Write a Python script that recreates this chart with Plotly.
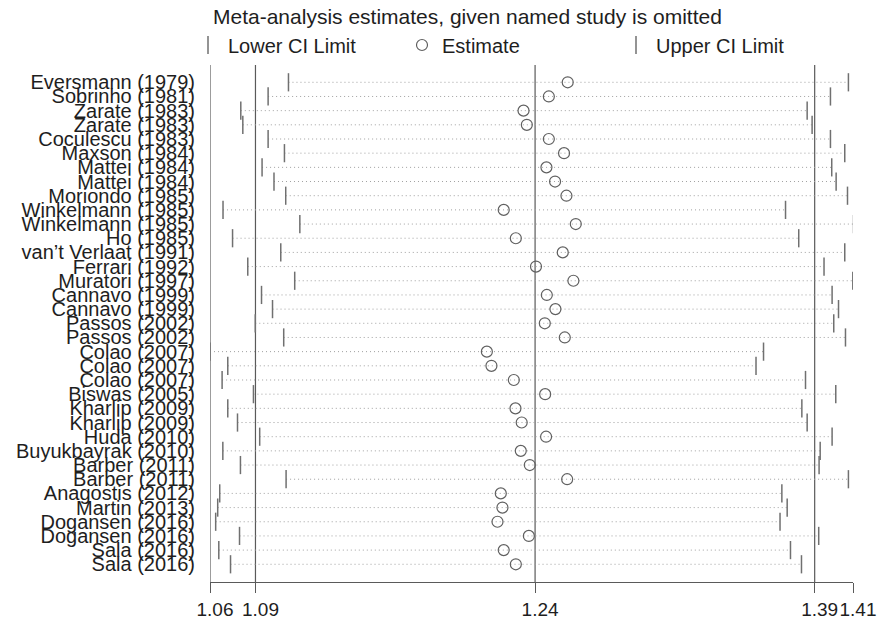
import plotly.graph_objects as go

studies = [
    "Eversmann (1979)", "Sobrinho (1981)", "Zarate (1983)", "Zarate (1983)",
    "Coculescu (1983)", "Maxson (1984)", "Mattei (1984)", "Mattei (1984)",
    "Moriondo (1985)", "Winkelmann (1985)", "Winkelmann (1985)", "Ho (1985)",
    "van\u2019t Verlaat (1991)", "Ferrari (1992)", "Muratori (1997)", "Cannavo (1999)",
    "Cannavo (1999)", "Passos (2002)", "Passos (2002)", "Colao (2007)",
    "Colao (2007)", "Colao (2007)", "Biswas (2005)", "Kharlip (2009)",
    "Kharlip (2009)", "Huda (2010)", "Buyukbayrak (2010)", "Barber (2011)",
    "Barber (2011)", "Anagostis (2012)", "Martin (2013)", "Dogansen (2016)",
    "Dogansen (2016)", "Sala (2016)", "Sala (2016)",
]

lower = [
    1.1035, 1.0924, 1.0775, 1.0786, 1.0924, 1.1013, 1.0891, 1.0956,
    1.1020, 1.0678, 1.1097, 1.0730, 1.0993, 1.0813, 1.1069, 1.0888,
    1.0948, 1.0854, 1.1009, 1.0607, 1.0704, 1.0673, 1.0844, 1.0704,
    1.0757, 1.0878, 1.0677, 1.0773, 1.1022, 1.0660, 1.0649, 1.0638,
    1.0768, 1.0655, 1.0719,
]

estimate = [
    1.2558, 1.2455, 1.2317, 1.2335, 1.2455, 1.2538, 1.2442, 1.2489,
    1.2551, 1.2209, 1.2602, 1.2275, 1.2531, 1.2385, 1.2589, 1.2444,
    1.2491, 1.2433, 1.2542, 1.2117, 1.2142, 1.2264, 1.2435, 1.2273,
    1.2307, 1.2440, 1.2302, 1.2351, 1.2555, 1.2193, 1.2202, 1.2175,
    1.2346, 1.2209, 1.2275,
]

upper = [
    1.4089, 1.3991, 1.3864, 1.3891, 1.3991, 1.4069, 1.3998, 1.4022,
    1.4084, 1.3746, 1.4117, 1.3818, 1.4069, 1.3956, 1.4113, 1.4000,
    1.4035, 1.4009, 1.4073, 1.3626, 1.3585, 1.3855, 1.4020, 1.3835,
    1.3864, 1.4000, 1.3935, 1.3929, 1.4089, 1.3726, 1.3755, 1.3716,
    1.3927, 1.3773, 1.3833,
]

# min lower limit, overall lower CI, overall estimate, overall upper CI, max upper limit
overall_ticks = [1.0607, 1.0855, 1.238, 1.3905, 1.4114]
tick_labels = ["1.06", "1.09", "1.24", "1.39", "1.41"]

rows = list(range(1, len(studies) + 1))

FONT = "Liberation Sans, Arial, sans-serif"
TXT = "#1e1e1e"
LINE = "#5a5a5a"

fig = go.Figure()

# dotted CI lines
dx, dy = [], []
for r, lo, up in zip(rows, lower, upper):
    dx += [lo, up, None]
    dy += [r, r, None]
fig.add_trace(go.Scatter(
    x=dx, y=dy, mode="lines", showlegend=False, hoverinfo="skip",
    line=dict(color="#a0a0a0", width=1, dash="1px,3px"),
))

fig.add_trace(go.Scatter(
    x=lower, y=rows, mode="markers", name="Lower CI Limit",
    marker=dict(symbol="line-ns", size=13, line=dict(color="#707070", width=1.5)),
))
fig.add_trace(go.Scatter(
    x=estimate, y=rows, mode="markers", name="Estimate",
    marker=dict(symbol="circle-open", size=11, color="#606060", line=dict(color="#606060", width=1.2)),
))
fig.add_trace(go.Scatter(
    x=upper, y=rows, mode="markers", name="Upper CI Limit",
    marker=dict(symbol="line-ns", size=13, line=dict(color="#707070", width=1.5)),
))

# reference lines
for v in overall_ticks[:4]:
    fig.add_shape(type="line", xref="x", yref="paper", x0=v, x1=v, y0=0, y1=1,
                  line=dict(color=LINE, width=1.2), layer="below")

fig.update_layout(
    width=892, height=619,
    margin=dict(l=210, r=39, t=65, b=37, autoexpand=False),
    paper_bgcolor="white", plot_bgcolor="white",
    font=dict(family=FONT, size=20, color=TXT),
    title=dict(
        text="Meta-analysis estimates, given named study is omitted",
        xref="container", yref="container", x=213 / 892, xanchor="left",
        y=1 - 17 / 619, yanchor="middle",
        font=dict(family=FONT, size=21, color=TXT),
    ),
    legend=dict(
        orientation="h", xref="container", yref="container",
        x=196 / 892, xanchor="left", y=1 - 45 / 619, yanchor="middle",
        entrywidth=177, entrywidthmode="pixels", indentation=-8,
        font=dict(family=FONT, size=20, color=TXT),
        itemsizing="trace", bgcolor="rgba(0,0,0,0)",
    ),
    xaxis=dict(
        range=[overall_ticks[0], overall_ticks[-1]],
        tickvals=overall_ticks, ticktext=tick_labels, tickangle=0,
        ticklabelshift=5,
        showgrid=False, zeroline=False,
        showline=True, linecolor=LINE, linewidth=1.2,
        ticks="outside", ticklen=10, tickcolor=LINE, tickwidth=1.2,
        tickfont=dict(family=FONT, size=19, color=TXT),
    ),
    yaxis=dict(
        range=[len(studies) + 1.25, -0.22],
        tickvals=rows, ticktext=studies,
        showgrid=False, zeroline=False, showline=False,
        ticks="", ticklabelstandoff=14,
        tickfont=dict(family=FONT, size=20, color=TXT),
    ),
)

fig.write_html("out.html")
